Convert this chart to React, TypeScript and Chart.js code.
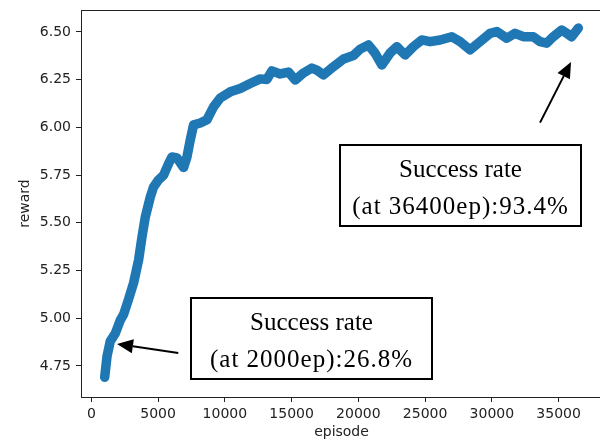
import { useEffect, useRef } from "react";
import { Chart, registerables } from "chart.js";

Chart.register(...registerables);

// ---- data ----
const episodes = [
  1000, 1175, 1422, 1796, 2171, 2418, 2792, 3166, 3540, 3795, 4042, 4416, 4663, 5037, 5412, 5786, 6040, 6415,
  6909, 7163, 7410, 7657, 8159, 8660, 9154, 9656, 10404, 11153, 11901, 12650, 13151, 13525, 14147, 14768, 15269,
  15890, 16519, 16893, 17388, 18136, 18885, 19633, 20135, 20756, 21257, 21759, 22380, 22882, 23503, 24124, 24753,
  25374, 26123, 26999, 27620, 28368, 29117, 29865, 30367, 31115, 31737, 32358, 33106, 33608, 34109, 34603, 35232,
  35606, 35980, 36475,
];
const rewards = [
  4.69, 4.8, 4.88, 4.92, 4.99, 5.02, 5.1, 5.185, 5.305, 5.426, 5.53, 5.635, 5.688, 5.725, 5.75, 5.81, 5.845, 5.84,
  5.79, 5.845, 5.934, 6.013, 6.023, 6.04, 6.107, 6.154, 6.186, 6.204, 6.23, 6.254, 6.251, 6.296, 6.28, 6.29, 6.248,
  6.285, 6.311, 6.3, 6.275, 6.318, 6.358, 6.377, 6.41, 6.432, 6.388, 6.327, 6.39, 6.423, 6.379, 6.423, 6.458,
  6.449, 6.458, 6.475, 6.449, 6.406, 6.449, 6.493, 6.502, 6.467, 6.493, 6.475, 6.475, 6.449, 6.441, 6.475, 6.51,
  6.493, 6.475, 6.52,
];
const xTicks = [0, 5000, 10000, 15000, 20000, 25000, 30000, 35000];
const yTicks = [4.75, 5.0, 5.25, 5.5, 5.75, 6.0, 6.25, 6.5];
const xRange = [-774, 38250];
const yRange = [4.587, 6.615];
const xTitle = "episode";
const yTitle = "reward";

// annotation texts, with arrow tip/tail and box centre in data units
const noteLines1 = ["Success rate", "(at 2000ep):26.8%"];
const noteLines2 = ["Success rate", "(at 36400ep):93.4%"];
const notes = [
  { lines: noteLines1, tip: [1923, 4.865], tail: [6512, 4.818], center: [16505, 4.891] },
  { lines: noteLines2, tip: [35928, 6.343], tail: [33608, 6.025], center: [27620, 5.695] },
];

const BOX_W = 241;
const BOX_H = 81;

const framePlugin = {
  id: "frame",
  afterDatasetsDraw(chart: any) {
    const { ctx, chartArea } = chart;
    ctx.save();
    ctx.strokeStyle = "#222";
    ctx.lineWidth = 1;
    ctx.strokeRect(
      Math.round(chartArea.left) + 0.5,
      Math.round(chartArea.top) + 0.5,
      Math.round(chartArea.right - chartArea.left),
      Math.round(chartArea.bottom - chartArea.top)
    );
    ctx.restore();
  },
};

const notesPlugin = {
  id: "notes",
  afterDraw(chart: any) {
    const { ctx } = chart;
    const xs = chart.scales.x;
    const ys = chart.scales.y;
    ctx.save();
    for (const n of notes) {
      const cx = xs.getPixelForValue(n.center[0]);
      const cy = ys.getPixelForValue(n.center[1]);
      const left = Math.round(cx - BOX_W / 2);
      const top = Math.round(cy - BOX_H / 2);
      ctx.fillStyle = "#fff";
      ctx.fillRect(left, top, BOX_W, BOX_H);
      ctx.lineWidth = 2;
      ctx.strokeStyle = "#000";
      ctx.strokeRect(left, top, BOX_W, BOX_H);
      ctx.fillStyle = "#000";
      ctx.font = '25px "Liberation Serif", "Times New Roman", serif';
      ctx.textAlign = "center";
      ctx.textBaseline = "alphabetic";
      n.lines.forEach((t, i) => {
        (ctx as any).letterSpacing = i === 0 ? "0px" : "1px";
        ctx.fillText(t, left + BOX_W / 2, top + 31.5 + i * 37);
      });
      (ctx as any).letterSpacing = "0px";

      const tx = xs.getPixelForValue(n.tip[0]);
      const ty = ys.getPixelForValue(n.tip[1]);
      const sx = xs.getPixelForValue(n.tail[0]);
      const sy = ys.getPixelForValue(n.tail[1]);
      const ang = Math.atan2(ty - sy, tx - sx);
      const hl = 16;
      const hw = 7;
      const bx = tx - hl * Math.cos(ang);
      const by = ty - hl * Math.sin(ang);
      ctx.beginPath();
      ctx.moveTo(sx, sy);
      ctx.lineTo(bx, by);
      ctx.lineWidth = 2;
      ctx.stroke();
      ctx.beginPath();
      ctx.moveTo(tx, ty);
      ctx.lineTo(bx + hw * Math.sin(ang), by - hw * Math.cos(ang));
      ctx.lineTo(bx - hw * Math.sin(ang), by + hw * Math.cos(ang));
      ctx.closePath();
      ctx.fill();
    }
    ctx.restore();
  },
};

export default function App() {
  const ref = useRef<HTMLCanvasElement | null>(null);

  useEffect(() => {
    if (!ref.current) return;
    const tickFont = { family: '"DejaVu Sans", sans-serif', size: 14 };
    const chart = new Chart(ref.current, {
      type: "line",
      data: {
        datasets: [
          {
            data: episodes.map((e, i) => ({ x: e, y: rewards[i] })),
            borderColor: "#1f77b4",
            backgroundColor: "#1f77b4",
            borderWidth: 9.5,
            borderJoinStyle: "round",
            borderCapStyle: "round",
            pointRadius: 0,
            tension: 0,
            fill: false,
          },
        ],
      },
      options: {
        responsive: false,
        animation: false,
        events: [],
        layout: { padding: { top: 10, right: 2, left: 0, bottom: 0 } },
        plugins: { legend: { display: false }, tooltip: { enabled: false } },
        scales: {
          x: {
            type: "linear",
            min: xRange[0],
            max: xRange[1],
            afterBuildTicks: (s: any) => {
              s.ticks = xTicks.map((v) => ({ value: v }));
            },
            afterFit: (s: any) => {
              s.height = 44;
              s.paddingLeft = 0;
              s.paddingRight = 0;
            },
            grid: { display: true, drawOnChartArea: false, drawTicks: true, tickLength: 5, color: "#222" },
            border: { display: false },
            ticks: {
              font: tickFont,
              color: "#222",
              padding: 4,
              maxRotation: 0,
              autoSkip: false,
              callback: (v: any) => String(v),
            },
            title: { display: true, text: xTitle, font: tickFont, color: "#222", padding: { top: 0, bottom: 0 } },
          },
          y: {
            type: "linear",
            min: yRange[0],
            max: yRange[1],
            afterBuildTicks: (s: any) => {
              s.ticks = yTicks.map((v) => ({ value: v }));
            },
            afterFit: (s: any) => {
              s.width = 81;
              s.paddingTop = 0;
              s.paddingBottom = 0;
            },
            grid: { display: true, drawOnChartArea: false, drawTicks: true, tickLength: 5, color: "#222" },
            border: { display: false },
            ticks: {
              font: tickFont,
              color: "#222",
              padding: 5,
              autoSkip: false,
              callback: (v: any) => Number(v).toFixed(2),
            },
            title: { display: true, text: yTitle, font: tickFont, color: "#222", padding: { top: 17, bottom: 0 } },
          },
        },
      },
      plugins: [framePlugin, notesPlugin],
    });
    return () => chart.destroy();
  }, []);

  return (
    <div style={{ position: "absolute", left: 0, top: 0, width: 600, height: 441, overflow: "hidden", background: "#fff" }}>
      <canvas ref={ref} width={604} height={441} style={{ display: "block", width: 604, height: 441 }} />
    </div>
  );
}
